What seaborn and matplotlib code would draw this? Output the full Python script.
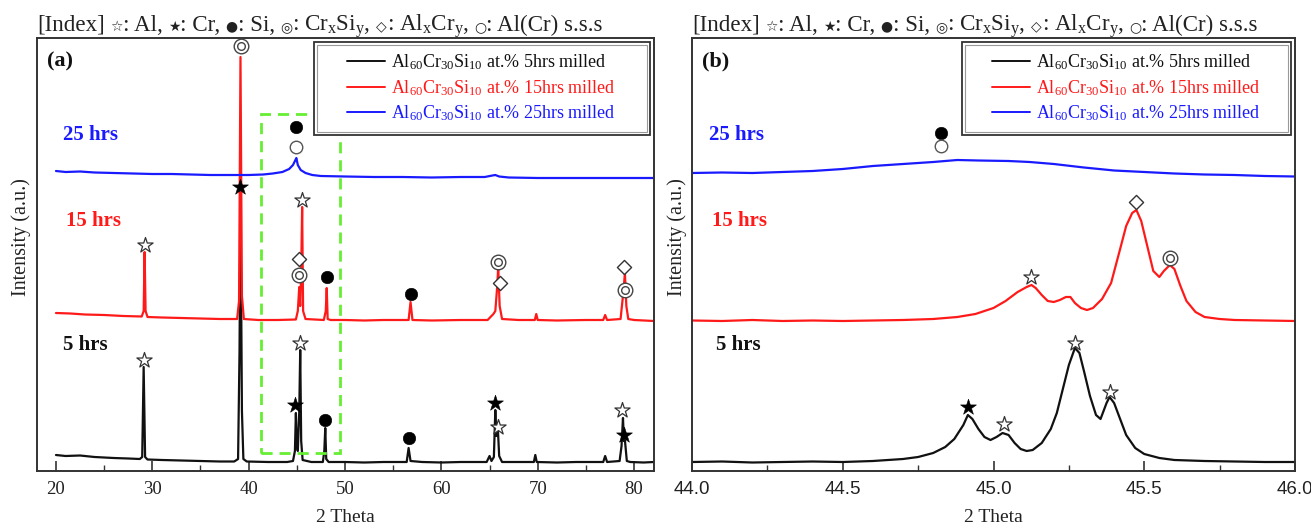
import matplotlib
matplotlib.use("Agg")
import matplotlib.pyplot as plt
import pandas as pd
import seaborn as sns
from matplotlib.patches import Rectangle
from matplotlib.lines import Line2D
from matplotlib.ticker import MultipleLocator, FormatStrFormatter
from matplotlib.offsetbox import TextArea, HPacker, AnchoredOffsetbox, DrawingArea

# ---------------- data ----------------
SERIES = ["5 hrs", "15 hrs", "25 hrs"]
LEGEND_LABELS = [r"Al$_\mathregular{60}$Cr$_\mathregular{30}$Si$_\mathregular{10}$ at.% 5hrs milled",
                 r"Al$_\mathregular{60}$Cr$_\mathregular{30}$Si$_\mathregular{10}$ at.% 15hrs milled",
                 r"Al$_\mathregular{60}$Cr$_\mathregular{30}$Si$_\mathregular{10}$ at.% 25hrs milled"]

# panel (a): full scan, stacked intensities (a.u.)
A5_X = [20.0, 21.0, 22.5, 24.0, 26.0, 27.5, 28.7, 28.95, 29.1, 29.25, 29.5, 31.0, 33.0, 35.0, 37.0,
        38.5, 38.9, 39.05, 39.15, 39.3, 39.45, 39.8, 42.0, 44.0, 44.6, 44.8, 44.9, 45.0, 45.1, 45.25,
        45.35, 45.45, 45.6, 46.5, 47.7, 47.85, 47.95, 48.05, 48.3, 50.0, 52.0, 54.0, 56.4, 56.6, 56.8,
        58.0, 60.0, 62.0, 64.7, 65.0, 65.2, 65.45, 65.6, 65.7, 65.85, 66.0, 66.3, 68.0, 69.6, 69.75,
        69.9, 72.0, 74.0, 76.8, 77.0, 77.2, 78.5, 78.7, 78.85, 78.95, 79.05, 79.25, 79.6, 81.0, 82.07]
A5_Y = [16, 15, 15.5, 14, 13, 12.5, 12, 14, 104, 14, 11.5, 11, 10.5, 10, 9.5,
        9.5, 12, 120, 273, 60, 12, 9.5, 9, 9, 10, 20, 58, 25, 20, 60,
        121, 30, 11, 9, 9, 20, 43, 12, 9, 9, 8.5, 9, 9, 23, 10,
        9, 8.5, 9, 9, 15, 10, 14, 61, 35, 45, 15, 9, 9, 9, 16,
        9, 8.5, 9, 9, 15, 9, 10, 25, 53, 30, 31, 10, 9, 8.5, 9]

A15_X = [20.0, 21.5, 23.0, 25.0, 27.0, 28.9, 29.1, 29.2, 29.3, 29.5, 31.0, 33.0, 35.0, 37.0, 38.8,
         39.0, 39.15, 39.3, 39.5, 41.0, 43.0, 44.9, 45.1, 45.25, 45.35, 45.45, 45.55, 45.65, 45.9,
         47.8, 48.0, 48.1, 48.2, 48.5, 50.0, 52.0, 54.0, 56.6, 56.8, 57.0, 59.0, 62.0, 64.8, 65.4,
         65.6, 65.8, 65.9, 66.05, 66.3, 68.0, 69.7, 69.85, 70.0, 72.0, 75.0, 76.8, 77.0, 77.2, 78.6,
         78.9, 79.05, 79.2, 79.4, 80.0, 82.07]
A15_Y = [158, 157.5, 156.5, 156, 155, 154.5, 160, 219, 160, 154, 153.5, 153, 152.5, 152, 152,
         170, 414, 175, 152, 151, 151, 151.5, 160, 184, 165, 200, 264, 160, 152,
         151, 160, 183, 152, 151, 151, 150.5, 151, 151, 169, 151, 150.5, 151, 151, 157,
         160, 185, 204, 165, 152, 151, 151, 157, 151, 150.5, 151, 151, 156, 151, 152,
         180, 198, 165, 152, 151, 150]

A25_X = [20.0, 21.0, 22.5, 24.0, 26.0, 28.0, 30.0, 32.0, 34.0, 36.0, 38.0, 40.0, 41.5, 42.5, 43.5,
         44.2, 44.6, 44.85, 44.95, 45.1, 45.4, 45.9, 46.6, 47.5, 50.0, 53.0, 56.0, 59.0, 62.0, 64.5,
         65.3, 65.6, 66.0, 67.0, 70.0, 74.0, 78.0, 82.07]
A25_Y = [300, 299, 299.5, 298.5, 298, 297.5, 297, 297, 296.5, 296, 296, 296, 296.5, 297.5, 299,
         302, 306, 311, 313, 306, 301, 298, 296, 295, 294.5, 294, 294, 293.5, 294, 294,
         295.5, 296, 294.5, 293.5, 293, 293, 293, 293]

# panel (b): zoom 44-46 degrees
B5_X = [44.0, 44.1, 44.2, 44.3, 44.4, 44.5, 44.6, 44.65, 44.7, 44.75, 44.8, 44.84, 44.87, 44.9,
        44.915, 44.93, 44.95, 44.97, 44.99, 45.01, 45.03, 45.05, 45.07, 45.09, 45.11, 45.13, 45.16,
        45.19, 45.21, 45.23, 45.25, 45.27, 45.285, 45.3, 45.32, 45.34, 45.355, 45.365, 45.375,
        45.385, 45.4, 45.42, 45.44, 45.47, 45.5, 45.55, 45.6, 45.7, 45.8, 45.9, 46.0]
B5_Y = [9, 9.5, 8.5, 9, 9.5, 9, 10, 11, 12, 14, 18, 24, 32, 46,
        56, 52, 42, 34, 31, 34, 38, 36, 28, 22, 20, 21, 28,
        42, 58, 82, 106, 123, 118, 100, 75, 56, 52, 60, 68,
        74, 68, 52, 36, 23, 17, 13, 11, 10, 9.5, 9, 9]

B15_X = [44.0, 44.1, 44.2, 44.3, 44.4, 44.5, 44.6, 44.7, 44.8, 44.88, 44.94, 45.0, 45.04, 45.08,
         45.11, 45.126, 45.14, 45.16, 45.18, 45.2, 45.22, 45.24, 45.255, 45.27, 45.29, 45.31, 45.33,
         45.36, 45.39, 45.42, 45.44, 45.46, 45.474, 45.49, 45.51, 45.53, 45.55, 45.565, 45.585,
         45.6, 45.62, 45.64, 45.67, 45.7, 45.75, 45.8, 45.9, 46.0]
B15_Y = [150.5, 150, 151, 150, 150.5, 150, 150.5, 151, 152, 154, 157, 163, 170, 179,
         184, 186, 183, 176, 170, 169, 171, 174, 174, 168, 163, 161, 163,
         172, 188, 222, 245, 258, 261, 250, 225, 200, 194, 200, 206,
         202, 185, 170, 159, 154, 152, 151, 150.5, 150]

B25_X = [44.0, 44.1, 44.2, 44.3, 44.4, 44.5, 44.6, 44.7, 44.8, 44.88, 44.95, 45.05, 45.12, 45.2,
         45.3, 45.4, 45.5, 45.6, 45.7, 45.8, 45.9, 46.0]
B25_Y = [298, 298.5, 298, 299, 300, 302, 305, 307, 309, 311, 310.5, 310, 309, 307,
         303.5, 300.5, 299, 297.5, 296.5, 296, 295, 294.5]

# phase markers: Al = white star, Cr = black star, Si = dot, CrSi = double circle,
# AlCr = diamond, SSS = open circle
A_MARK_PHASE = ["Al", "Cr", "Cr", "Al", "Si", "Si", "Cr", "Al", "Al", "Cr",
                "Al", "CrSi", "AlCr", "CrSi", "Al", "Si", "Si", "CrSi", "AlCr", "AlCr", "CrSi",
                "Si", "SSS"]
A_MARK_X = [29.1, 39.1, 44.85, 45.35, 47.9, 56.6, 65.6, 65.9, 78.8, 79.0,
            29.2, 39.2, 45.25, 45.25, 45.55, 48.1, 56.8, 65.9, 66.05, 78.95, 79.1,
            44.95, 44.95]
A_MARK_Y = [111, 284, 66, 128, 51, 33, 68, 44, 61, 36,
            226, 425, 212, 196, 271, 194, 177, 209, 188, 204, 181,
            344, 324]

B_MARK_PHASE = ["Cr", "Al", "Al", "Al", "Al", "AlCr", "CrSi", "Si", "SSS"]
B_MARK_X = [44.915, 45.035, 45.27, 45.385, 45.126, 45.474, 45.585, 44.826, 44.826]
B_MARK_Y = [64, 47, 128, 79, 194, 269, 213, 338, 325]

# ---------------- style ----------------
COLORS = ["#111111", "#ff1a1a", "#1a1aff"]
LABEL_COLORS = ["#111111", "#ff1a1a", "#1a1aff"]
YMAX = 433

sns.set_theme(style="white")
plt.rcParams.update({
    "font.family": ["Liberation Serif", "DejaVu Sans"],
    "mathtext.fontset": "custom",
    "mathtext.rm": "Liberation Serif",
    "mathtext.it": "Liberation Serif:italic",
    "mathtext.bf": "Liberation Serif:bold",
    "axes.edgecolor": "#333333",
    "axes.linewidth": 1.4,
    "xtick.color": "#333333",
    "text.color": "#222222",
    "axes.labelcolor": "#222222",
})

STYLE = {
    "Al": dict(marker="*", s=11.5 ** 2, color="white", edgecolor="#333333", linewidth=0.9),
    "Cr": dict(marker="*", s=12 ** 2, color="black", edgecolor="black", linewidth=0.4),
    "Si": dict(marker="o", s=9 ** 2, color="black", edgecolor="black", linewidth=0.4),
    "CrSi": dict(marker="o", s=10.5 ** 2, color="white", edgecolor="#444444", linewidth=1.0),
    "AlCr": dict(marker="D", s=7.2 ** 2, color="white", edgecolor="#333333", linewidth=1.0),
    "SSS": dict(marker="o", s=9 ** 2, color="white", edgecolor="#555555", linewidth=1.0),
}

fig = plt.figure(figsize=(13.11, 5.30), dpi=100)
W, H = 1311, 530
ax1 = fig.add_axes([37 / W, (H - 471) / H, 617 / W, 433 / H])
ax2 = fig.add_axes([692 / W, (H - 471) / H, 603 / W, 433 / H])


def make_df(xs, ys):
    frames = [pd.DataFrame({"two_theta": x, "intensity": y, "series": s})
              for s, x, y in zip(SERIES, xs, ys)]
    return pd.concat(frames, ignore_index=True)


def draw_markers(ax, phases, xs, ys):
    df = pd.DataFrame({"x": xs, "y": ys, "phase": phases})
    for ph, st in STYLE.items():
        sub = df[df["phase"] == ph]
        if sub.empty:
            continue
        sns.scatterplot(data=sub, x="x", y="y", ax=ax, legend=False, zorder=6, clip_on=False, **st)
        if ph == "CrSi":
            sns.scatterplot(data=sub, x="x", y="y", ax=ax, legend=False, zorder=7, clip_on=False,
                            marker="o", s=5.5 ** 2, color="white", edgecolor="#444444", linewidth=1.0)


def frame_box(ax, x0, x1, y0, y1):
    ax.add_patch(Rectangle((x0, y0), x1 - x0, y1 - y0, transform=ax.transAxes, fill=True,
                           facecolor="white", edgecolor="#333333", lw=1.3, zorder=8))
    dx, dy = 3.0 / ax.bbox.width, 3.0 / ax.bbox.height
    ax.add_patch(Rectangle((x0 + dx, y0 + dy), x1 - x0 - 2 * dx, y1 - y0 - 2 * dy,
                           transform=ax.transAxes, fill=False, edgecolor="#999999", lw=0.8, zorder=8))


def header(x_px):
    serif = dict(family="Liberation Serif", size=16.6, color="#222222")
    sym = dict(family="DejaVu Sans", size=10, color="#222222")
    pieces = [("[Index]", serif), None, ("☆", sym), (": Al,", serif), None,
              ("★", sym), (": Cr,", serif), None, ("●", sym), (": Si,", serif), None,
              ("◎", sym), (r": Cr$_\mathregular{x}$Si$_\mathregular{y}$,", serif), None,
              ("◇", sym), (r": Al$_\mathregular{x}$Cr$_\mathregular{y}$,", serif), None,
              ("○", sym), (": Al(Cr) s.s.s", serif)]
    children = []
    for p in pieces:
        if p is None:
            children.append(DrawingArea(3.8, 1))
        else:
            children.append(TextArea(p[0], textprops=p[1]))
    pack = HPacker(children=children, align="baseline", pad=0, sep=0)
    box = AnchoredOffsetbox(loc="lower left", child=pack, pad=0, borderpad=0, frameon=False,
                            bbox_to_anchor=(x_px / W, (H - 40) / H),
                            bbox_transform=fig.transFigure)
    fig.add_artist(box)


def panel(ax, xs, ys, phases, mx, my, xlim, major, minor, fmt, tickfont, ticksize, tag, leg_x,
          box_x, lab_x):
    df = make_df(xs, ys)
    sns.lineplot(data=df, x="two_theta", y="intensity", hue="series", hue_order=SERIES,
                 palette=COLORS, estimator=None, sort=False, linewidth=1.6, legend=False, ax=ax)
    draw_markers(ax, phases, mx, my)
    ax.set_xlim(*xlim)
    ax.set_ylim(0, YMAX)
    ax.set_yticks([])
    ax.xaxis.set_major_locator(MultipleLocator(major))
    ax.xaxis.set_minor_locator(MultipleLocator(minor))
    ax.xaxis.set_major_formatter(FormatStrFormatter(fmt))
    ax.tick_params(axis="x", which="major", direction="in", length=7, width=1.2, bottom=True,
                   pad=7, labelsize=ticksize, labelcolor="#222222")
    ax.tick_params(axis="x", which="minor", direction="in", length=4, width=1.0, bottom=True)
    for lbl in ax.get_xticklabels():
        lbl.set_family(tickfont)
    for sp in ax.spines.values():
        sp.set_visible(True)
    ax.set_xlabel("2 Theta", fontsize=14)
    ax.xaxis.set_label_coords(0.5, -0.088)
    ax.set_ylabel("Intensity (a.u.)", fontsize=14.5)
    ax.yaxis.set_label_coords(-0.009, 0.54)
    ax.text(0.016, 0.945, tag, transform=ax.transAxes, fontsize=16, fontweight="bold",
            va="center", ha="left", color="#111111")
    for s, c, yy, xx in zip(["25 hrs", "15 hrs", "5 hrs"], [LABEL_COLORS[2], LABEL_COLORS[1], LABEL_COLORS[0]],
                            [0.776, 0.577, 0.291], lab_x):
        ax.text(xx, yy, s, transform=ax.transAxes, fontsize=15, fontweight="bold", color=c,
                va="center", ha="left")
    frame_box(ax, box_x, 0.9935, 0.776, 0.9908)
    handles = [Line2D([], [], color=c, lw=1.4) for c in COLORS]
    leg = ax.legend(handles, LEGEND_LABELS, loc="upper left", bbox_to_anchor=(leg_x, 0.966),
                    frameon=False, borderpad=0, borderaxespad=0, handlelength=2.1,
                    handletextpad=0.35, labelspacing=0.3, fontsize=13)
    leg.set_zorder(9)
    for t, c in zip(leg.get_texts(), LABEL_COLORS):
        t.set_color(c)


panel(ax1, [A5_X, A15_X, A25_X], [A5_Y, A15_Y, A25_Y], A_MARK_PHASE, A_MARK_X, A_MARK_Y,
      (18.03, 82.07), 10, 5, "%d", "Liberation Serif", 13.5, "(a)", 0.5024, 0.449,
      [0.042, 0.047, 0.042])
panel(ax2, [B5_X, B15_X, B25_X], [B5_Y, B15_Y, B25_Y], B_MARK_PHASE, B_MARK_X, B_MARK_Y,
      (44.0, 46.0), 0.5, 0.25, "%.1f", "Liberation Sans", 13.5, "(b)", 0.4975, 0.4478,
      [0.028, 0.033, 0.040])

# dashed green frame showing the zoomed region in (a)
ax1.add_patch(Rectangle((41.3, 18), 8.2, 339, fill=False, edgecolor="#66ee33", lw=2.0,
                        linestyle=(0, (4, 2.5)), zorder=4))

header(37)
header(692)

fig.savefig("out.png", dpi=100)
